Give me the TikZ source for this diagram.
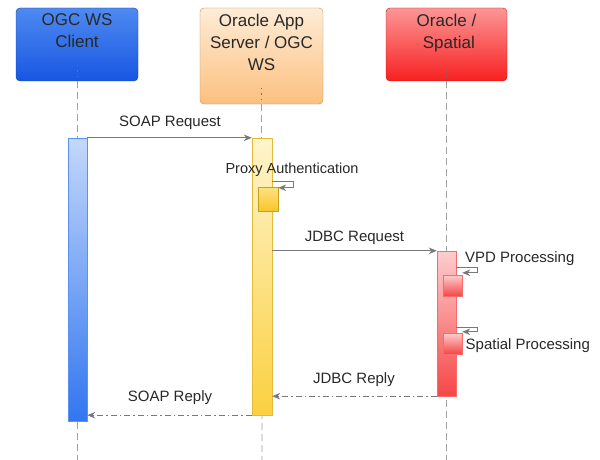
\documentclass[tikz,border=0pt]{standalone}
\usepackage{fontspec}
\setmainfont{Liberation Sans}
\usetikzlibrary{arrows.meta}
\definecolor{cliTop}{RGB}{78,138,240}
\definecolor{cliBot}{RGB}{24,86,226}
\definecolor{appTop}{RGB}{254,236,214}
\definecolor{appBot}{RGB}{252,192,128}
\definecolor{oraTop}{RGB}{252,150,150}
\definecolor{oraBot}{RGB}{248,32,32}
\definecolor{cbarTop}{RGB}{196,216,250}
\definecolor{cbarBot}{RGB}{50,118,240}
\definecolor{abarTop}{RGB}{254,244,204}
\definecolor{abarBot}{RGB}{251,208,64}
\definecolor{obarTop}{RGB}{253,206,206}
\definecolor{obarBot}{RGB}{246,70,70}
\definecolor{pboxTop}{RGB}{253,226,130}
\definecolor{pboxBot}{RGB}{248,198,40}
\definecolor{lineGrey}{RGB}{120,120,120}
\definecolor{txt}{RGB}{40,40,40}
\begin{document}
\begin{tikzpicture}[x=1pt,y=-1pt,
  hbox/.style={rectangle, rounded corners=4pt, inner sep=0pt, draw=#1!75!black, line width=0.4pt},
  htext/.style={anchor=north, inner sep=0pt, align=center, text=txt, font=\fontsize{17}{22}\selectfont},
  actbar/.style={rectangle, inner sep=0pt, minimum width=19pt, draw=#1, line width=0.4pt},
  life/.style={draw=lineGrey!70, line width=0.8pt, dash pattern=on 7pt off 4pt},
  lifein/.style={draw=black!55, line width=0.8pt, dash pattern=on 1.5pt off 4pt},
  msg/.style={draw=lineGrey, line width=0.9pt, -{Stealth[length=8pt,width=6.5pt]}},
  reply/.style={msg, dash pattern=on 6pt off 3pt on 1.5pt off 3pt},
  lbl/.style={inner sep=0pt, text=txt, font=\fontsize{15}{17}\selectfont}
]
\useasboundingbox[fill=white] (0,0) rectangle (600,460);

% header boxes
\node[hbox=cliBot, top color=cliTop, bottom color=cliBot, minimum width=122pt, minimum height=73pt] (cbox) at (77,44.5) {};
\node[hbox=appBot, top color=appTop, bottom color=appBot, minimum width=123pt, minimum height=96pt] (abox) at (261.5,56) {};
\node[hbox=oraBot, top color=oraTop, bottom color=oraBot, minimum width=121pt, minimum height=73pt] (obox) at (446.5,44.5) {};

\node[htext] (ctext) at (77,13.5) {OGC WS\\Client};
\node[htext] (atext) at (261.5,13.5) {Oracle App\\Server / OGC\\WS};
\node[htext] (otext) at (446.5,13.5) {Oracle /\\\ Spatial};

% lifelines
\coordinate (cend) at (77,460);
\coordinate (aend) at (262,460);
\coordinate (oend) at (446.5,460);
\draw[lifein] ([yshift=4pt]cbox.south) -- ([yshift=19pt]cbox.south);
\draw[lifein] ([yshift=4pt]abox.south) -- ([yshift=19pt]abox.south);
\draw[lifein] ([yshift=4pt]obox.south) -- ([yshift=19pt]obox.south);
\draw[life] (cbox.south) -- (cend);
\draw[life] (abox.south) -- (aend);
\draw[life] (obox.south) -- (oend);

% activation bars
\node[actbar=cbarBot!80!white, top color=cbarTop, bottom color=cbarBot, minimum height=283pt] (cbar) at (77.5,279.5) {};
\node[actbar=abarBot!90!black, top color=abarTop, bottom color=abarBot, minimum width=20pt, minimum height=277pt] (abar) at (262,276.5) {};
\node[actbar=obarBot!80!white, top color=obarTop, bottom color=obarBot, minimum height=145pt] (obar) at (446.5,323.5) {};

% nested activations
\node[actbar=pboxBot!80!black, top color=pboxTop, bottom color=pboxBot, minimum width=20pt, minimum height=24pt] (pbox) at (268,199) {};
\node[actbar=obarBot!80!white, top color=obarTop, bottom color=obarBot, minimum height=21pt] (vbox) at (452.5,285.5) {};
\node[actbar=obarBot!80!white, top color=obarTop, bottom color=obarBot, minimum height=21pt] (sbox) at (452.5,343.5) {};

% messages
\draw[msg] (cbar.north east) -- (abar.north west);
\node[lbl] (soapreq) at (170,123) {SOAP Request};

\draw[msg] (abar.east |- obar.north) -- (obar.north west);
\node[lbl] (jdbcreq) at (354.5,237.5) {JDBC Request};

\draw[reply] (obar.south west) -- (abar.east |- obar.south);
\node[lbl] (jdbcrep) at (354,380) {JDBC Reply};

\draw[reply] (abar.south west) -- (cbar.east |- abar.south);
\node[lbl] (soaprep) at (170,398) {SOAP Reply};

% self messages
\draw[msg] ([yshift=5pt]pbox.north -| abar.east) -- ++(21,0) |- ([yshift=-1pt]pbox.north east);
\node[lbl, font=\fontsize{14.5}{17}\selectfont] (proxy) at (292,170) {Proxy Authentication};

\draw[msg] ([yshift=7pt]vbox.north -| obar.east) -- ++(21,0) |- ([yshift=2pt]vbox.north east);
\node[lbl, anchor=west] (vpd) at (465,259) {VPD Processing};

\draw[msg] ([yshift=5pt]sbox.north -| obar.east) -- ++(21,0) |- ([yshift=1pt]sbox.north east);
\node[lbl, anchor=west] (spat) at (465.5,346) {Spatial Processing};
\end{tikzpicture}
\end{document}
